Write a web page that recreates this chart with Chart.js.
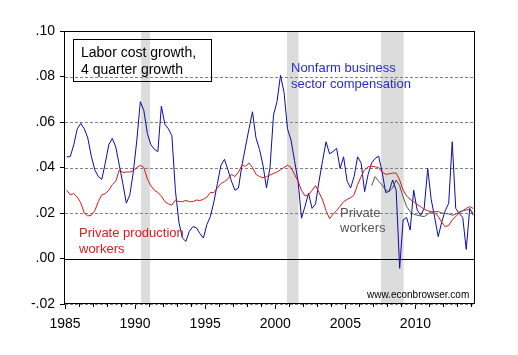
<!DOCTYPE html>
<html><head><meta charset="utf-8">
<script src="https://cdn.jsdelivr.net/npm/chart.js@4.4.1/dist/chart.umd.min.js"></script>
<style>html,body{margin:0;padding:0;background:#fff;}canvas{display:block;}</style>
</head><body>
<canvas id="c" width="518" height="355"></canvas>
<script>
// Quarterly categories 1985Q1 .. 2014Q1
const quarters = [];
for (let y = 1985; y <= 2014; y++) for (let q = 1; q <= 4; q++) { if (y === 2014 && q > 1) break; quarters.push(y + 'Q' + q); }

// Nonfarm business sector compensation, 4-quarter growth
const nonfarmComp = [
 .0447,.0448,.050,.057,.0594,.057,.053,.045,.039,.036,
 .0348,.042,.050,.0528,.049,.041,.033,.0243,.028,.038,
 .052,.069,.065,.055,.050,.048,.047,.067,.059,.057,
 .054,.030,.016,.009,.0075,.012,.014,.0135,.011,.009,
 .015,.0185,.025,.033,.041,.0436,.039,.034,.030,.031,
 .041,.049,.057,.0645,.053,.048,.041,.031,.040,.063,
 .069,.0805,.073,.057,.052,.043,.034,.0177,.023,.0287,
 .022,.024,.034,.043,.0513,.046,.047,.0484,.0396,.0447,
 .034,.031,.036,.0447,.042,.0294,.037,.042,.044,.045,
 .038,.029,.0295,.0345,.030,-.0043,.017,.018,.0125,.030,
 .0213,.019,.022,.0396,.026,.018,.0096,.016,.021,.0243,
 .0513,.022,.0198,.018,.004,.022,.019
];
// Private production workers
const prodWorkers = [
 .030,.028,.0285,.027,.0245,.020,.0187,.019,.021,.025,
 .028,.0285,.030,.0325,.034,.039,.0378,.038,.038,.0385,
 .040,.041,.040,.035,.032,.030,.029,.0275,.025,.024,
 .0235,.0257,.025,.025,.0255,.025,.025,.0257,.0255,.026,
 .027,.029,.029,.031,.033,.0338,.035,.037,.036,.038,
 .041,.0405,.042,.040,.037,.036,.0355,.036,.0367,.0374,
 .038,.039,.040,.041,.040,.037,.034,.030,.0275,.028,
 .030,.032,.029,.0257,.021,.0175,.0195,.021,.023,.025,
 .026,.0267,.028,.0325,.036,.039,.0403,.0405,.0403,.040,
 .038,.037,.0372,.0376,.0375,.0345,.030,.0275,.026,.025,
 .0238,.0228,.0216,.021,.0206,.020,.0185,.016,.014,.0145,
 .017,.0184,.020,.021,.022,.0228,.022
];
// Private (all) workers, available from 2006Q4
const privWorkers = Array(87).fill(null).concat([
 .032,.036,.034,.0323,.030,.0295,.031,.0345,.032,.027,
 .0228,.0206,.0195,.019,.0187,.0184,.0195,.0205,.0206,.0206,
 .020,.0198,.0196,.019,.0195,.0205,.021,.0213,.0216,.020
]);

const yTicks = [-0.02, 0, 0.02, 0.04, 0.06, 0.08, 0.10];
const xMajorTicks = [1985, 1990, 1995, 2000, 2005, 2010];
const recessions = [[1990.43, 1991.07], [2000.84, 2001.66], [2007.55, 2009.16]];

const FONT = '"Liberation Sans", Arial, sans-serif';
const qPos = q => parseInt(q.slice(0, 4)) + (parseInt(q.slice(5)) - 1) / 4 + 0.125;
const mk = arr => arr.map((v, i) => ({ x: qPos(quarters[i]), y: v }));
const fmt = v => { const s = Number(v).toFixed(2); return s.replace('0.', '.'); };

const bgPlugin = {
  id: 'bg',
  beforeDatasetsDraw(chart) {
    const { ctx, chartArea: a, scales: { x, y } } = chart;
    ctx.save();
    ctx.fillStyle = '#dcdcdc';
    recessions.forEach(([s, e]) => {
      const x0 = x.getPixelForValue(s), x1 = x.getPixelForValue(e);
      ctx.fillRect(x0, a.top, x1 - x0, a.bottom - a.top);
    });
    yTicks.forEach(v => {
      const py = Math.round(y.getPixelForValue(v)) + 0.5;
      if (v === 0) { ctx.setLineDash([]); ctx.strokeStyle = '#000'; }
      else { ctx.setLineDash([3, 2]); ctx.strokeStyle = '#808080'; }
      ctx.lineWidth = 1;
      ctx.beginPath(); ctx.moveTo(a.left, py); ctx.lineTo(a.right, py); ctx.stroke();
    });
    ctx.restore();
  },
  afterDraw(chart) {
    const { ctx, chartArea: a, scales: { x } } = chart;
    ctx.save();
    ctx.strokeStyle = '#000'; ctx.lineWidth = 1; ctx.setLineDash([]);
    ctx.strokeRect(Math.round(a.left) - 0.5, Math.round(a.top) + 0.5, Math.round(a.right - a.left), Math.round(a.bottom - a.top) - 1);
    for (let yr = 1986; yr <= 2014; yr++) {
      if (yr % 5 === 0) continue;
      const px = Math.round(x.getPixelForValue(yr)) + 0.5;
      ctx.beginPath(); ctx.moveTo(px, a.bottom); ctx.lineTo(px, a.bottom + 3); ctx.stroke();
    }
    // annotation box
    ctx.strokeRect(73.5, 39.5, 138, 42);
    ctx.font = '14px ' + FONT;
    ctx.textBaseline = 'alphabetic';
    ctx.fillStyle = '#000';
    ctx.fillText('Labor cost growth,', 81, 57);
    ctx.fillText('4 quarter growth', 81, 74);
    ctx.font = '13px ' + FONT;
    ctx.fillStyle = '#2a2acc';
    ctx.fillText('Nonfarm business', 291, 72);
    ctx.fillText('sector compensation', 291, 88);
    ctx.fillStyle = '#d42020';
    ctx.fillText('Private production', 79, 237);
    ctx.fillText('workers', 79, 253);
    ctx.fillStyle = '#555';
    ctx.fillText('Private', 340, 217);
    ctx.fillText('workers', 340, 232);
    ctx.fillStyle = '#000';
    ctx.font = '10px ' + FONT;
    ctx.fillText('www.econbrowser.com', 367, 298);
    ctx.restore();
  }
};

new Chart(document.getElementById('c').getContext('2d'), {
  type: 'line',
  data: {
    datasets: [
      { data: mk(privWorkers), borderColor: '#555555', borderWidth: 1, pointRadius: 0, tension: 0, spanGaps: false },
      { data: mk(prodWorkers), borderColor: '#d41a1a', borderWidth: 1, pointRadius: 0, tension: 0 },
      { data: mk(nonfarmComp), borderColor: '#0c0ca8', borderWidth: 1, pointRadius: 0, tension: 0 }
    ]
  },
  options: {
    responsive: false, animation: false, devicePixelRatio: 1,
    layout: { padding: { left: 0, right: 43, top: 31, bottom: 0 } },
    plugins: { legend: { display: false }, tooltip: { enabled: false } },
    scales: {
      x: {
        type: 'linear', min: 1985, max: 2014.25,
        afterBuildTicks: s => { s.ticks = xMajorTicks.map(v => ({ value: v })); },
        ticks: { autoSkip: false, maxRotation: 0, color: '#000', font: { family: FONT, size: 14 }, padding: 7, callback: v => String(v) },
        grid: { display: true, drawOnChartArea: false, drawTicks: true, tickLength: 5, color: '#000' },
        border: { display: false },
        afterFit: s => { s.height = 51; }
      },
      y: {
        min: -0.02, max: 0.10,
        afterBuildTicks: s => { s.ticks = yTicks.map(v => ({ value: v })); },
        ticks: { color: '#000', font: { family: FONT, size: 14 }, padding: 5, callback: v => fmt(v) },
        grid: { display: true, drawOnChartArea: false, drawTicks: true, tickLength: 5, color: '#000' },
        border: { display: false },
        afterFit: s => { s.width = 65; }
      }
    }
  },
  plugins: [bgPlugin]
});
</script>
</body></html>
